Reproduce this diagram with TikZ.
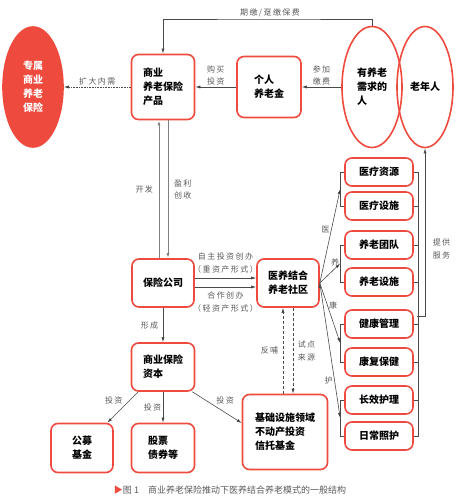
\documentclass[tikz,border=0pt]{standalone}
\usepackage{fontspec}
\setmainfont{Noto Sans CJK SC}
\newfontfamily\lblfont[LetterSpace=18]{Noto Sans CJK SC}
\usepackage{xcolor}
\usetikzlibrary{shapes.geometric,arrows.meta,calc}
\definecolor{boxred}{HTML}{EE4B3E}
\definecolor{linegray}{HTML}{4A4A4A}
\definecolor{lblgray}{HTML}{5A5A5A}

\tikzset{
  box/.style={draw=boxred,line width=1.6pt,rounded corners=7pt,fill=white,inner sep=0pt,
    font=\fontsize{10}{14}\selectfont\bfseries},
  sbox/.style={box,minimum width=68,minimum height=28},
  oval/.style={ellipse,draw=boxred,line width=1.6pt,inner sep=0pt,
    font=\fontsize{10}{14}\selectfont\bfseries},
  lbl/.style={font=\fontsize{8}{12.5}\selectfont\lblfont,text=lblgray,inner sep=1.5pt,align=center},
}

\begin{document}
\begin{tikzpicture}[x=1pt,y=-1pt]
		\useasboundingbox (0,0) rectangle (459,500);
		% top row
		\node[oval,fill=boxred,text=white,minimum width=60,minimum height=120,align=center] (own) at (33,87) {专属\\商业\\养老\\保险};
		\node[box,minimum width=63,minimum height=65,align=left] (prod) at (163,87) {商业\\养老保险\\产品};
		\node[box,minimum width=64,minimum height=61,align=left] (pens) at (269,87) {个人\\养老金};
		\node[oval,minimum width=60,minimum height=121,align=left] (need) at (372,87) {有养老\\需求的\\人};
		\node[oval,minimum width=56,minimum height=121] (old) at (425,87) {老年人};
		% middle
		\node[box,minimum width=62,minimum height=48] (ins) at (163,283) {保险公司};
		\node[box,minimum width=62,minimum height=48,align=center] (comm) at (288,283) {医养结合\\养老社区};
		\node[box,minimum width=63,minimum height=48,align=left] (cap) at (163,367) {商业保险\\资本};
		% bottom
		\node[box,minimum width=62,minimum height=49,align=center] (fund) at (82,448) {公募\\基金};
		\node[box,minimum width=63,minimum height=49,align=left] (stock) at (163,448) {股票\\债券等};
		\node[box,minimum width=85,minimum height=75,align=left] (base) at (285,432) {基础设施领域\\不动产投资\\信托基金};
		% services
		\foreach \n/\y/\t in {1/172/医疗资源,2/206/医疗设施,3/245/养老团队,4/282/养老设施,5/324/健康管理,6/362/康复保健,7/400/长效护理,8/436/日常照护}
			\node[sbox] (r\n) at (379,\y) {\t};
		\node[font=\fontsize{9}{11}\selectfont,text=lblgray] (caption) at (230,490) {\textcolor{boxred}{▶}图 1\quad 商业养老保险推动下医养结合养老模式的一般结构};
		%
		\coordinate (top) at (270,19);
		\coordinate (srv) at (417,316);
		\coordinate (fb) at ($(comm.south)+(-5,0)$);
		\coordinate (sd) at ($(comm.south)+(5,0)$);
		\foreach \a/\b in {1/2,3/4,5/6,7/8}
			\coordinate (m\a) at ($(r\a.west)!0.5!(r\b.west)+(-4,0)$);
		%
		\path[->,draw=linegray,line width=0.6pt,>={Latex[length=5pt,width=3pt]}]
		% horizontal arrows
		(pens) edge node[lbl,above]{购买\\投资} (prod)
		(need) edge node[lbl,above]{参加\\缴费} (pens)
		(prod) edge[densely dotted] node[lbl,above]{扩大内需} (own)
		([yshift=5]ins.east) edge node[lbl,above=3pt]{自主投资创办\\（重资产形式）} ([yshift=5]comm.west)
		([yshift=-4]ins.east) edge node[lbl,below=3pt]{合作创办\\（轻资产形式）} ([yshift=-4]comm.west)
		% vertical arrows
		([xshift=-4]ins.north) edge[line width=1pt,draw=gray] node[lbl,left=4pt]{开发} ([xshift=-4]prod.south)
		([xshift=5]prod.south) edge[line width=1pt,draw=gray] node[lbl,right=4pt]{盈利\\创收} ([xshift=5]ins.north)
		(ins) edge node[lbl,left=3pt]{形成} (cap)
		(cap) edge node[lbl,above left,pos=0.45]{投资} (fund)
		(cap) edge node[lbl,left]{投资} (stock)
		([xshift=-3]cap.south east) edge node[lbl,above right,pos=0.45]{投资} ([yshift=9]base.west)
		(fb |- base.north) edge[densely dashed] node[lbl,left=3pt]{反哺} (fb)
		(sd) edge[densely dashed] node[lbl,right=3pt]{试点\\来源} (sd |- base.north)
		% to services
		(comm.east) edge node[lbl,left,pos=0.57]{医} (m1)
		(comm.east) edge node[lbl,above,pos=0.75]{养} (m3)
		(comm.east) edge node[lbl,right,pos=0.37]{康} (m5)
		(comm.east) edge node[lbl,left,pos=0.72]{护} (m7);
		%
		\draw[->,linegray,line width=0.6pt,>={Latex[length=5pt,width=3pt]}] (need.north) |- (top) -| (prod.north);
		\node[lbl,above] at (top) {期缴/趸缴保费};
		\draw[->,linegray,line width=0.6pt,>={Latex[length=5pt,width=3pt]}] (srv) -| node[lbl,pos=0.7,right=6pt]{提供\\服务} (old.south);
		% brackets
		\foreach \a/\b in {1/2,3/4,5/6,7/8}
			\draw[linegray,line width=0.6pt] (r\a.west) -- ++(-4,0) |- (r\b.west);
		\draw[linegray,line width=0.6pt] (r1.east) -- ++(4,0) |- (r8.east);
		\foreach \n in {2,...,7}
			\draw[linegray,line width=0.6pt] (r\n.east) -- ++(4,0);
	\end{tikzpicture}
\end{document}
